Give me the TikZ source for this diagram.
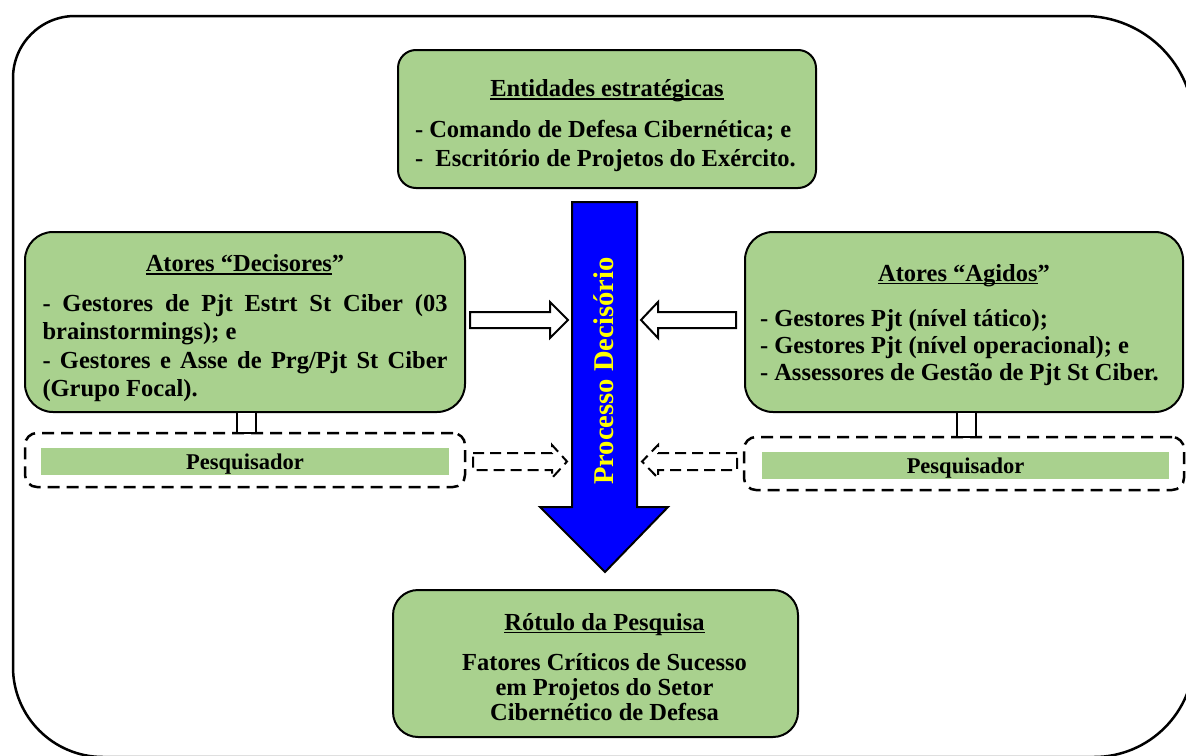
\documentclass[tikz,border=0pt]{standalone}
\usepackage{fontspec}
\setmainfont{Liberation Serif}
\definecolor{boxgreen}{HTML}{A9D18E}
\definecolor{procblue}{HTML}{0000FF}
\definecolor{procyellow}{HTML}{FFFF00}
\newcommand\fs[1]{\fontsize{24.5}{#1}\selectfont\bfseries}
\newsavebox\ulbox
\newcommand\myul[1]{\leavevmode\sbox\ulbox{#1}\rlap{\rule[-0.12em]{\wd\ulbox}{0.07em}}\usebox\ulbox}
\tikzset{
  gbox/.style={draw=black, line width=2pt, fill=boxgreen, inner sep=0pt},
  boxtext/.style={inner sep=0pt},
  dashbox/.style={draw=black, line width=2.5pt, dash pattern=on 12pt off 7pt, rounded corners=12pt, inner sep=0pt},
  pbar/.style={fill=boxgreen, inner sep=0pt, minimum height=27pt},
  ptext/.style={inner sep=0pt, font=\fontsize{22.5}{26}\selectfont\bfseries},
  sqconn/.style={draw=black, line width=2pt, fill=white, inner sep=0pt},
  blockarrow/.style={draw=black, line width=2pt, fill=white, line join=miter},
  dasharrow/.style={draw=black, line width=2pt, dash pattern=on 11pt off 6pt},
  frame/.style={draw=black, line width=2.5pt}
}
\begin{document}
\begin{tikzpicture}[x=1pt,y=-1pt]
\useasboundingbox (0,0) rectangle (1186,755);
% outer frame
\begin{scope}
\clip (0,0) rectangle (1186,755);
\draw[frame] (13,78) .. controls (13,43.8) and (40.8,16) .. (75,16)
  -- (1084,16) .. controls (1144.8,16) and (1194,65.2) .. (1194,126)
  -- (1194,657) .. controls (1194,712.2) and (1149.2,757) .. (1094,757)
  -- (103,757) .. controls (53.3,757) and (13,716.7) .. (13,667) -- cycle;
\end{scope}

% top box
\node[gbox, rounded corners=18pt, minimum width=418pt, minimum height=138pt] (ent) at (607,119) {};
\node[boxtext] (entT) at ([yshift=-7pt]ent.center)
 {\parbox{384pt}{\fs{29}\centerline{\myul{Entidades estratégicas}}\par\vspace{12pt}\raggedright
 - Comando de Defesa Cibernética; e\\
 -\ \ Escritório de Projetos do Exército.}};

% left box
\node[gbox, rounded corners=28pt, minimum width=440pt, minimum height=180pt] (dec) at (245,322) {};
\node[boxtext] (decT) at ([yshift=-6.5pt]dec.center)
 {\parbox{405pt}{\fs{28.5}\centerline{\myul{Atores “Decisores}”}\par\vspace{11pt}
 - Gestores de Pjt Estrt St Ciber (03\linebreak brainstormings); e\\
 - Gestores e Asse de Prg/Pjt St Ciber\linebreak (Grupo Focal).}};

% right box
\node[gbox, rounded corners=28pt, minimum width=438pt, minimum height=180pt] (agi) at (964,322) {};
\node[boxtext] (agiT) at ([yshift=-3pt]agi.center)
 {\parbox{408pt}{\fs{27}\centerline{\myul{Atores “Agidos}”}\par\vspace{18pt}\raggedright
 - Gestores Pjt (nível tático);\\
 - Gestores Pjt (nível operacional); e\\
 - Assessores de Gestão de Pjt St Ciber.}};

% bottom box
\node[gbox, rounded corners=25pt, minimum width=405pt, minimum height=147pt] (rot) at (595.5,663.5) {};
\node[boxtext] (rotT) at ([xshift=9pt,yshift=-3.5pt]rot.center)
 {\parbox{330pt}{\fs{25}\centering \myul{Rótulo da Pesquisa}\\[15pt]
 Fatores Críticos de Sucesso\\ em Projetos do Setor\\ Cibernético de Defesa}};

% researcher boxes
\node[dashbox, minimum width=440pt, minimum height=54pt] (pdL) at (245,460) {};
\node[pbar, minimum width=408pt] (pbL) at (245,461.5) {};
\node[ptext, anchor=base] (ptL) at (245,469) {Pesquisador};
\node[dashbox, minimum width=440pt, minimum height=53pt] (pdR) at (964,463.5) {};
\node[pbar, minimum width=407pt] (pbR) at (965.5,465.5) {};
\node[ptext, anchor=base] (ptR) at (965.5,473) {Pesquisador};

% small connectors
\node[sqconn, minimum width=19pt, minimum height=21pt] (cL) at (246.5,422.5) {};
\node[sqconn, minimum width=19pt, minimum height=25pt] (cR) at (966.5,424.5) {};

% central process arrow
\draw[draw=black, line width=2pt, fill=procblue, line join=miter]
  (572,202) -- (637,202) -- (637,507) -- (668,507) -- (605,572) -- (540,507) -- (572,507) -- cycle;
\node[rotate=90, text=procyellow, font=\fontsize{28.6}{32}\selectfont\bfseries, inner sep=0pt] (proc) at (604,371) {Processo Decisório};

% solid block arrows
\draw[blockarrow] (470,312) -- (550,312) -- (550,302) -- (568,320) -- (550,338) -- (550,328) -- (470,328) -- cycle;
\draw[blockarrow] (736,312) -- (658,312) -- (658,302) -- (641,320) -- (658,338) -- (658,328) -- (736,328) -- cycle;

% dashed block arrows
\draw[dasharrow] (473,453) -- (552,453) -- (552,445) -- (567,461.5) -- (552,478) -- (552,470) -- (473,470) -- cycle;
\draw[dasharrow] (737,453) -- (658,453) -- (658,445) -- (642,461.5) -- (658,478) -- (658,470) -- (737,470) -- cycle;
\end{tikzpicture}
\end{document}
